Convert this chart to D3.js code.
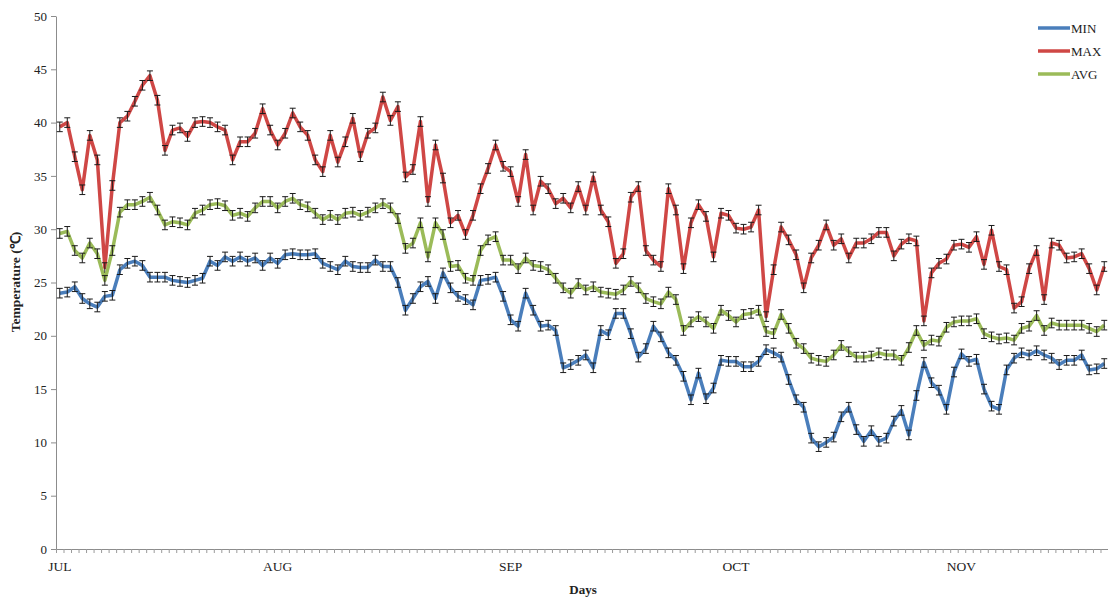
<!DOCTYPE html>
<html>
<head>
<meta charset="utf-8">
<script src="https://cdn.jsdelivr.net/npm/d3@7/dist/d3.min.js"></script>
<style>
  body { margin: 0; background: #fff; }
  svg { display: block; }
  text { font-family: "Liberation Serif", "Times New Roman", serif; fill: #222; }
</style>
</head>
<body>
<svg id="chart" width="1108" height="598"></svg>
<script>
// Daily temperatures (°C), 1 July onwards
const minTemp = [
  24.0, 24.1, 24.6, 23.5, 23.0, 22.7, 23.7, 23.8, 26.2, 26.8,
  27.0, 26.6, 25.5, 25.5, 25.5, 25.2, 25.1, 25.0, 25.2, 25.4,
  27.0, 26.6, 27.4, 27.0, 27.4, 27.0, 27.3, 26.6, 27.3, 26.8,
  27.6, 27.7, 27.6, 27.6, 27.7, 26.8, 26.5, 26.2, 27.0, 26.5,
  26.4, 26.4, 27.1, 26.5, 26.5, 25.0, 22.4, 23.5, 24.6, 25.1,
  23.5, 25.9, 24.5, 23.7, 23.4, 22.9, 25.2, 25.3, 25.5, 23.7,
  21.5, 20.9, 24.0, 22.4, 20.9, 21.0, 20.5, 17.0, 17.3, 17.7,
  18.2, 17.0, 20.5, 20.1, 22.1, 22.1, 20.2, 18.0, 18.8, 20.9,
  19.9, 18.4, 17.7, 16.2, 14.0, 16.5, 14.1, 15.1, 17.7, 17.6,
  17.6, 17.1, 17.1, 17.6, 18.7, 18.4, 18.0, 15.9, 14.0, 13.3,
  10.4, 9.6, 10.0, 10.5, 12.4, 13.3, 11.2, 10.1, 11.1, 10.1,
  10.4, 12.0, 13.0, 10.7, 14.4, 17.5, 15.6, 14.9, 13.1, 16.6,
  18.3, 17.6, 17.8, 15.0, 13.4, 13.1, 16.8, 17.9, 18.4, 18.2,
  18.6, 18.2, 17.9, 17.3, 17.7, 17.7, 18.2, 16.8, 16.9, 17.4
];
const maxTemp = [
  39.6, 40.0, 36.8, 33.7, 38.8, 36.5, 26.4, 34.1, 40.0, 40.6,
  42.0, 43.5, 44.4, 42.1, 37.4, 39.3, 39.5, 38.7, 40.0, 40.1,
  40.0, 39.6, 39.3, 36.5, 38.2, 38.2, 39.0, 41.3, 39.3, 37.9,
  39.0, 40.9, 39.6, 38.8, 36.5, 35.4, 38.8, 36.3, 38.2, 40.4,
  36.8, 39.0, 39.5, 42.4, 40.2, 41.5, 34.9, 35.6, 40.1, 32.6,
  37.9, 34.8, 30.6, 31.3, 29.5, 31.3, 33.8, 35.7, 37.9, 35.9,
  35.4, 32.6, 37.0, 31.8, 34.5, 33.8, 32.4, 32.9, 32.0, 34.0,
  31.8, 34.9, 31.8, 30.7, 26.8, 27.7, 33.0, 34.0, 28.0, 27.1,
  26.5, 33.8, 31.8, 26.3, 30.6, 32.3, 31.2, 27.4, 31.5, 31.3,
  30.1, 30.0, 30.2, 31.8, 21.8, 26.2, 30.2, 29.0, 27.6, 24.5,
  27.3, 28.5, 30.4, 28.5, 29.1, 27.3, 28.7, 28.7, 29.1, 29.7,
  29.7, 27.5, 28.6, 29.1, 28.9, 21.4, 25.9, 26.8, 27.2, 28.5,
  28.6, 28.3, 29.3, 26.7, 29.9, 26.5, 26.2, 22.6, 23.2, 26.3,
  28.0, 23.4, 28.7, 28.5, 27.3, 27.4, 27.7, 26.3, 24.3, 26.5
];
const avgTemp = [
  29.6, 29.8, 28.0, 27.3, 28.7, 27.7, 25.2, 28.0, 31.6, 32.3,
  32.3, 32.6, 33.0, 31.8, 30.4, 30.7, 30.6, 30.4, 31.5, 31.8,
  32.3, 32.4, 32.2, 31.3, 31.5, 31.2, 32.0, 32.6, 32.6, 32.0,
  32.6, 32.9, 32.3, 32.1, 31.5, 30.9, 31.3, 30.9, 31.5, 31.6,
  31.3, 31.6, 32.0, 32.4, 32.0, 31.0, 28.2, 28.7, 30.6, 27.4,
  30.6, 29.5, 26.5, 26.6, 25.4, 25.2, 28.0, 29.0, 29.3, 27.1,
  27.1, 26.3, 27.3, 26.6, 26.5, 26.2, 25.4, 24.5, 24.0, 24.9,
  24.3, 24.6, 24.1, 24.0, 23.9, 24.3, 25.1, 24.5, 23.5, 23.2,
  23.0, 24.1, 23.4, 20.5, 21.3, 21.8, 21.3, 20.7, 22.4, 21.9,
  21.3, 22.0, 22.1, 22.4, 20.4, 20.2, 22.0, 20.7, 19.3, 18.8,
  17.9, 17.7, 17.6, 18.2, 19.1, 18.5, 18.0, 18.0, 18.1, 18.4,
  18.2, 18.2, 17.7, 18.9, 20.5, 19.1, 19.6, 19.5, 20.8, 21.3,
  21.4, 21.4, 21.6, 20.2, 19.9, 19.7, 19.8, 19.6, 20.7, 20.9,
  21.9, 20.5, 21.2, 21.0, 21.0, 21.0, 21.0, 20.7, 20.4, 21.0
];
const errorMargin = 0.45;

const monthLabels = ["JUL", "AUG", "SEP", "OCT", "NOV"];
const monthDayIndex = [0, 29, 60, 90, 120];
const yTicks = [0, 5, 10, 15, 20, 25, 30, 35, 40, 45, 50];

const seriesNames = ["MIN", "MAX", "AVG"];
const seriesValues = [minTemp, maxTemp, avgTemp];
const seriesColors = ["#4a7ebb", "#cf4745", "#9bbb59"];

const svg = d3.select("#chart");
const plot = { left: 56, right: 1108, top: 16, bottom: 549 };
const dayCount = minTemp.length;
const dayIndex = d3.range(dayCount);

const x = d3.scalePoint().domain(dayIndex).range([plot.left, plot.right]).padding(0.5);
const xEdges = d3.scaleLinear().domain([0, dayCount]).range([plot.left, plot.right]);
const y = d3.scaleLinear().domain([0, 50]).range([plot.bottom, plot.top]);

// Y axis
const yAxis = svg.append("g")
  .attr("transform", `translate(${plot.left},0)`)
  .call(d3.axisLeft(y).tickValues(yTicks).tickSize(5).tickPadding(4).tickSizeOuter(0));
yAxis.select(".domain").attr("stroke", "#8c8c8c");
yAxis.selectAll(".tick line").attr("stroke", "#8c8c8c");
yAxis.selectAll(".tick text")
  .attr("font-family", "Liberation Serif, serif").attr("font-size", 13).attr("fill", "#333");

// X axis: a tick between every day
const xAxis = svg.append("g")
  .attr("transform", `translate(0,${plot.bottom})`)
  .call(d3.axisBottom(xEdges).tickValues(d3.range(dayCount + 1)).tickSize(4).tickFormat("").tickSizeOuter(0));
xAxis.select(".domain").attr("stroke", "#8c8c8c");
xAxis.selectAll(".tick line").attr("stroke", "#9a9a9a");

svg.append("g").selectAll("text")
  .data(monthLabels)
  .join("text")
  .attr("x", (d, i) => x(monthDayIndex[i]))
  .attr("y", 571)
  .attr("text-anchor", "middle")
  .attr("font-size", 13.5)
  .attr("fill", "#333")
  .text(d => d);

// Axis titles
svg.append("text")
  .attr("x", 583).attr("y", 594)
  .attr("text-anchor", "middle")
  .attr("font-size", 13).attr("font-weight", "bold")
  .text("Days");
svg.append("text")
  .attr("transform", "translate(20,282) rotate(-90)")
  .attr("text-anchor", "middle")
  .attr("font-size", 13.5).attr("font-weight", "bold")
  .text("Temperature (℃)");

// Series lines with error bars
const line = d3.line().x((d, i) => x(i)).y(d => y(d));
const capHalf = 3;

seriesValues.forEach((values, s) => {
  const g = svg.append("g");
  g.append("path")
    .datum(values)
    .attr("fill", "none")
    .attr("stroke", seriesColors[s])
    .attr("stroke-width", 3.5)
    .attr("stroke-linejoin", "round")
    .attr("d", line);

  const bars = g.append("g")
    .attr("stroke", "#1a1a1a")
    .attr("stroke-width", 1)
    .selectAll("g")
    .data(values)
    .join("g");
  bars.append("line")
    .attr("x1", (d, i) => x(i)).attr("x2", (d, i) => x(i))
    .attr("y1", d => y(d + errorMargin)).attr("y2", d => y(d - errorMargin));
  bars.append("line")
    .attr("x1", (d, i) => x(i) - capHalf).attr("x2", (d, i) => x(i) + capHalf)
    .attr("y1", d => y(d + errorMargin)).attr("y2", d => y(d + errorMargin));
  bars.append("line")
    .attr("x1", (d, i) => x(i) - capHalf).attr("x2", (d, i) => x(i) + capHalf)
    .attr("y1", d => y(d - errorMargin)).attr("y2", d => y(d - errorMargin));
});

// Legend
const legend = svg.append("g")
  .selectAll("g")
  .data(seriesNames)
  .join("g")
  .attr("transform", (d, i) => `translate(1038,${28 + i * 23})`);
legend.append("line")
  .attr("x1", 0).attr("x2", 32)
  .attr("stroke", (d, i) => seriesColors[i])
  .attr("stroke-width", 3.5);
legend.append("text")
  .attr("x", 33).attr("y", 5)
  .attr("font-size", 13)
  .attr("fill", "#222")
  .text(d => d);
</script>
</body>
</html>
